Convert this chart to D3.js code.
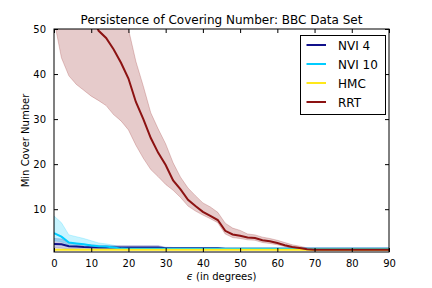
<!DOCTYPE html>
<html><head><meta charset="utf-8">
<script src="https://cdn.jsdelivr.net/npm/d3@7"></script>
<style>body{margin:0;background:#fff}svg{display:block}text{font-family:"DejaVu Sans",sans-serif}</style>
</head><body>
<script>
const eps = [0,2,4,6,8,10,12,14,16,18,20,22,24,26,28,30,32,34,36,38,40,42,44,46,48,50,52,54,56,58,60,62,64,66,68,70,72,74,76,78,80,82,84,86,88,90];
const rrtMean = [80,72,66,61,57,53,49.6,48,45.5,42.5,39,33.8,30,25.8,22.5,19.8,16.4,14.4,12.1,10.7,9.4,8.5,7.6,5.2,4.4,4.1,3.7,3.6,3.1,2.9,2.5,2.0,1.6,1.4,1.1,1.0,1,1,1,1,1,1,1,1,1,1];
const rrtLow = [52,43.6,39.6,37.7,36.4,35.1,34.1,33.0,31.0,29.6,27.6,24.2,21.3,18.8,17.2,15.5,14.2,12.6,10.7,9.6,8.7,7.9,7.0,4.5,3.7,3.5,3.2,3.1,2.6,2.4,2.1,1.7,1.3,1.1,0.9,0.9,1,1,1,1,1,1,1,1,1,1];
const rrtHigh = [100,95,90,84,78,72,67,63,60,57,50,42.8,37.3,31.4,27.8,24.5,20.3,17.1,14.7,13,11.4,10.5,9.3,6.9,5.8,5.3,4.5,4.3,3.8,3.5,3.1,2.6,2.1,1.8,1.4,1.1,1,1,1,1,1,1,1,1,1,1];
const nvi4Mean = [2.3,2.2,1.8,1.7,1.6,1.55,1.5,1.5,1.5,1.5,1.5,1.5,1.5,1.5,1.5,1.35,1.35,1.35,1.35,1.35,1.35,1.35,1.35,1.2,1.2,1.2,1.2,1.2,1.2,1.2,1.2,1.2,1.2,1.2,1.2,1.2,1.2,1.2,1.2,1.2,1.2,1.2,1.2,1.2,1.2,1.2];
const nvi4Low = [1.4,1.35,1.2,1.15,1.1,1.1,1.1,1.1,1.1,1.1,1.1,1.1,1.1,1.1,1.1,1.1,1.1,1.1,1.1,1.1,1.1,1.1,1.1,1.1,1.1,1.1,1.1,1.1,1.1,1.1,1.1,1.1,1.1,1.1,1.1,1.1,1.1,1.1,1.1,1.1,1.1,1.1,1.1,1.1,1.1,1.1];
const nvi4High = [3.5,3.4,2.6,2.4,2.2,2.1,1.95,1.95,1.9,1.9,1.9,1.9,1.9,1.9,1.9,1.55,1.5,1.5,1.5,1.5,1.5,1.5,1.5,1.3,1.3,1.3,1.3,1.3,1.3,1.3,1.3,1.3,1.3,1.3,1.3,1.3,1.3,1.3,1.3,1.3,1.3,1.3,1.3,1.3,1.3,1.3];
const nvi10Mean = [4.7,3.9,2.6,2.4,2.2,1.95,1.8,1.7,1.5,1.25,1.2,1.2,1.2,1.2,1.2,1.2,1.2,1.2,1.2,1.2,1.2,1.2,1.2,1.2,1.2,1.2,1.2,1.2,1.2,1.2,1.2,1.2,1.2,1.2,1.2,1.2,1.2,1.2,1.2,1.2,1.2,1.2,1.2,1.2,1.2,1.2];
const nvi10Low = [3.0,2.8,2.0,1.8,1.7,1.5,1.4,1.3,1.25,1.2,1.2,1.2,1.2,1.2,1.2,1.2,1.2,1.2,1.2,1.2,1.2,1.2,1.2,1.2,1.2,1.2,1.2,1.2,1.2,1.2,1.2,1.2,1.2,1.2,1.2,1.2,1.2,1.2,1.2,1.2,1.2,1.2,1.2,1.2,1.2,1.2];
const nvi10High = [8.5,7.0,4.3,3.9,3.5,3.0,2.5,2.3,2.0,1.5,1.3,1.25,1.2,1.2,1.2,1.2,1.2,1.2,1.2,1.2,1.2,1.2,1.2,1.2,1.2,1.2,1.2,1.2,1.2,1.2,1.2,1.2,1.2,1.2,1.2,1.2,1.2,1.2,1.2,1.2,1.2,1.2,1.2,1.2,1.2,1.2];
const hmcMean = eps.map(() => 1);
const xTicks = [0,10,20,30,40,50,60,70,80,90];
const yTicks = [10,20,30,40,50];
const seriesNames = ["NVI 4","NVI 10","HMC","RRT"];
const seriesColors = ["#10108a","#00ccff","#ffe81a","#8c1212"];

const W = 432, H = 288;
const L = 54, R = 389, T = 29, B = 252;
const svg = d3.select("body").append("svg").attr("width", W).attr("height", H);
const x = d3.scaleLinear().domain([0, 90]).range([L, R]);
const y = d3.scaleLinear().domain([0.5, 50]).range([B, T]);

svg.append("clipPath").attr("id","clip").append("rect").attr("x",L).attr("y",T).attr("width",R-L).attr("height",B-T);
const g = svg.append("g").attr("clip-path","url(#clip)");

const series = [
  {mean: nvi4Mean, lo: nvi4Low, hi: nvi4High, color: seriesColors[0]},
  {mean: nvi10Mean, lo: nvi10Low, hi: nvi10High, color: seriesColors[1]},
  {mean: hmcMean, lo: hmcMean, hi: hmcMean, color: seriesColors[2]},
  {mean: rrtMean, lo: rrtLow, hi: rrtHigh, color: seriesColors[3]}
];
const area = (lo, hi) => d3.area().x((d,i)=>x(eps[i])).y0((d,i)=>y(lo[i])).y1((d,i)=>y(hi[i]))(eps);
const line = (v) => d3.line().x((d,i)=>x(eps[i])).y((d,i)=>y(v[i]))(eps);
series.forEach(s => {
  g.append("path").attr("d", area(s.lo, s.hi)).attr("fill", s.color).attr("fill-opacity", 0.22)
   .attr("stroke", s.color).attr("stroke-opacity", 0.22).attr("stroke-width", 1);
});
series.forEach(s => {
  g.append("path").attr("d", line(s.mean)).attr("fill","none").attr("stroke", s.color).attr("stroke-width", 2);
});

// axes
const tickLen = 4;
const xb = svg.append("g").attr("transform",`translate(0,${B})`).call(d3.axisBottom(x).tickValues(xTicks).tickSizeInner(-tickLen).tickSizeOuter(0).tickPadding(8));
const xt = svg.append("g").attr("transform",`translate(0,${T})`).call(d3.axisTop(x).tickValues(xTicks).tickSizeInner(-tickLen).tickSizeOuter(0).tickFormat(""));
const yl = svg.append("g").attr("transform",`translate(${L},0)`).call(d3.axisLeft(y).tickValues(yTicks).tickSizeInner(-tickLen).tickSizeOuter(0).tickPadding(8));
const yr = svg.append("g").attr("transform",`translate(${R},0)`).call(d3.axisRight(y).tickValues(yTicks).tickSizeInner(-tickLen).tickSizeOuter(0).tickFormat(""));
[xb,xt,yl,yr].forEach(a => { a.select(".domain").remove(); a.selectAll("text").attr("font-size",10).attr("font-family","DejaVu Sans").attr("fill","#000"); a.selectAll("line").attr("stroke","#000"); });
svg.append("rect").attr("x",L).attr("y",T).attr("width",R-L).attr("height",B-T).attr("fill","none").attr("stroke","#000").attr("stroke-width",1);

// title and labels
svg.append("text").attr("x",(L+R)/2).attr("y",23.5).attr("text-anchor","middle").attr("font-size",12).text("Persistence of Covering Number: BBC Data Set");
svg.append("text").attr("transform",`translate(29,${(T+B)/2}) rotate(-90)`).attr("text-anchor","middle").attr("font-size",10).text("Min Cover Number");
const xl = svg.append("text").attr("x",(L+R)/2).attr("y",280).attr("text-anchor","middle").attr("font-size",10);
xl.append("tspan").attr("font-style","italic").text("ϵ");
xl.append("tspan").text(" (in degrees)");

// legend
const lg = svg.append("g");
lg.append("rect").attr("x",300.5).attr("y",35.5).attr("width",85).attr("height",79).attr("fill","#fff").attr("stroke","#000").attr("stroke-width",1);
seriesNames.forEach((n,i) => {
  const yy = 45 + i*19;
  lg.append("line").attr("x1",306.5).attr("x2",326).attr("y1",yy).attr("y2",yy).attr("stroke",seriesColors[i]).attr("stroke-width",2);
  lg.append("text").attr("x",338).attr("y",yy+4.5).attr("font-size",12).text(n);
});
</script>
</body></html>
